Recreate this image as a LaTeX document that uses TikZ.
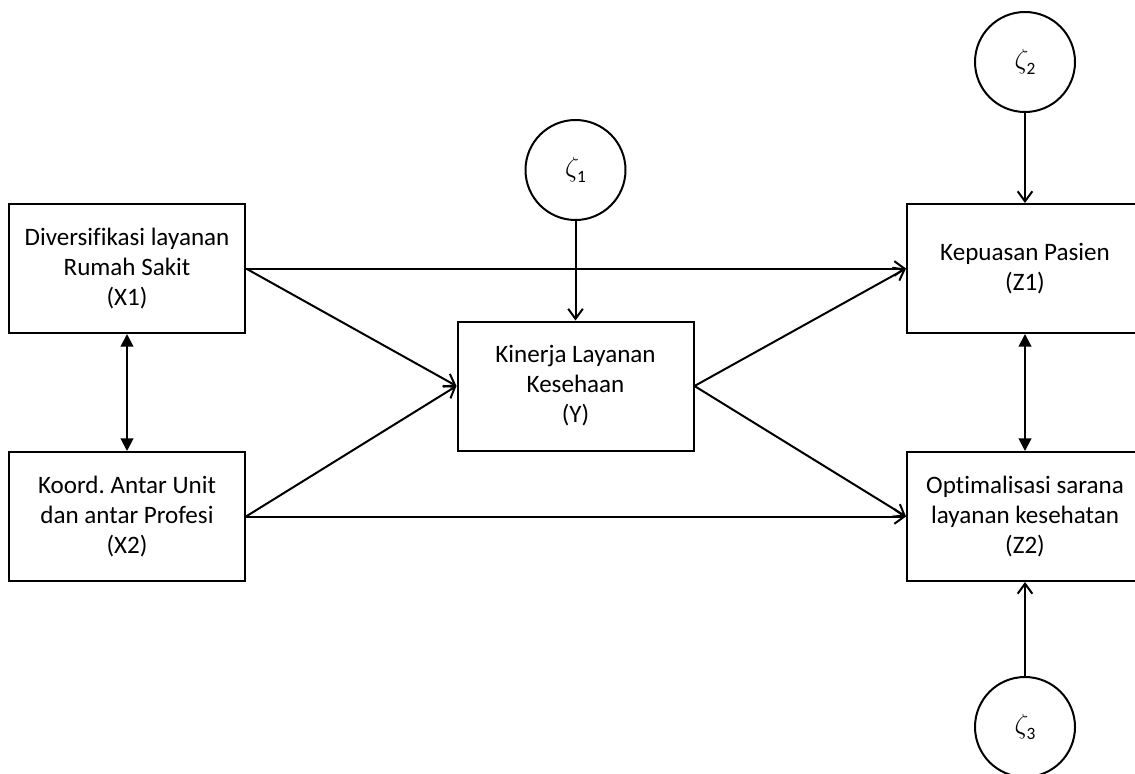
\documentclass[tikz,border=0pt]{standalone}
\usepackage{fontspec}
\setmainfont[Ligatures={NoCommon}]{Carlito}
\usetikzlibrary{positioning,arrows.meta}
\frenchspacing
\newcommand{\dist}[1]{$\zeta$\kern-1.5pt\raisebox{-0.45ex}{\fontsize{13}{13}\selectfont #1}}

\begin{document}
\begin{tikzpicture}[
    x=0.75pt, y=-0.75pt,
    var/.style={draw, line width=1.5pt, minimum width=177pt, minimum height=96.75pt,
      align=center, inner sep=0pt, font=\fontsize{18.8}{22.5}\selectfont},
    err/.style={draw, circle, line width=1.5pt, minimum size=75pt, inner sep=0pt,
      font=\fontsize{21}{21}\selectfont},
    path/.style={line width=1.5pt, -{Straight Barb[length=7.5pt, width=11pt, line width=1.5pt]}},
    cov/.style={line width=1.5pt, {Triangle[length=9.5pt, width=9.5pt]}-{Triangle[length=9.5pt, width=9.5pt]}},
  ]
    \useasboundingbox (0,0) rectangle (1135,774);

    % ===== exogenous variables =====
    \node[var] (x1) at (127, 268.5) {Diversifikasi layanan\\Rumah Sakit\\(X1)};
    \node[var] (x2) at (127, 516.5) {Koord. Antar Unit\\dan antar Profesi\\(X2)};

    % ===== intervening variable =====
    \node[var] (y) at (575.5, 386) {Kinerja Layanan\\Kesehaan\\(Y)};

    % ===== outcome variables (cut at the right edge) =====
    \node[var] (z1) at (1025, 268.5) {Kepuasan Pasien\\(Z1)};
    \node[var] (z2) at (1025, 516.5) {Optimalisasi sarana\\layanan kesehatan\\(Z2)};

    % ===== disturbances =====
    \node[err] (e1) at (575.5, 170) {\dist{1}};
    \node[err] (e2) at (1025, 62) {\dist{2}};
    \node[err] (e3) at (1025, 727) {\dist{3}};

    % paths
    \draw[path] (x1.east) -- (z1.west);
    \draw[path] (x1.east) -- (y.west);
    \draw[path] (x2.east) -- (y.west);
    \draw[path] (x2.east) -- (z2.west);
    \draw[path] (y.east) -- (z1.west);
    \draw[path] (y.east) -- (z2.west);

    \draw[path] (e1) -- (y);
    \draw[path] (e2) -- (z1);
    \draw[path] (e3) -- (z2);

    % correlations
    \draw[cov] (x1) -- (x2);
    \draw[cov] (z1) -- (z2);

\end{tikzpicture}
\end{document}
